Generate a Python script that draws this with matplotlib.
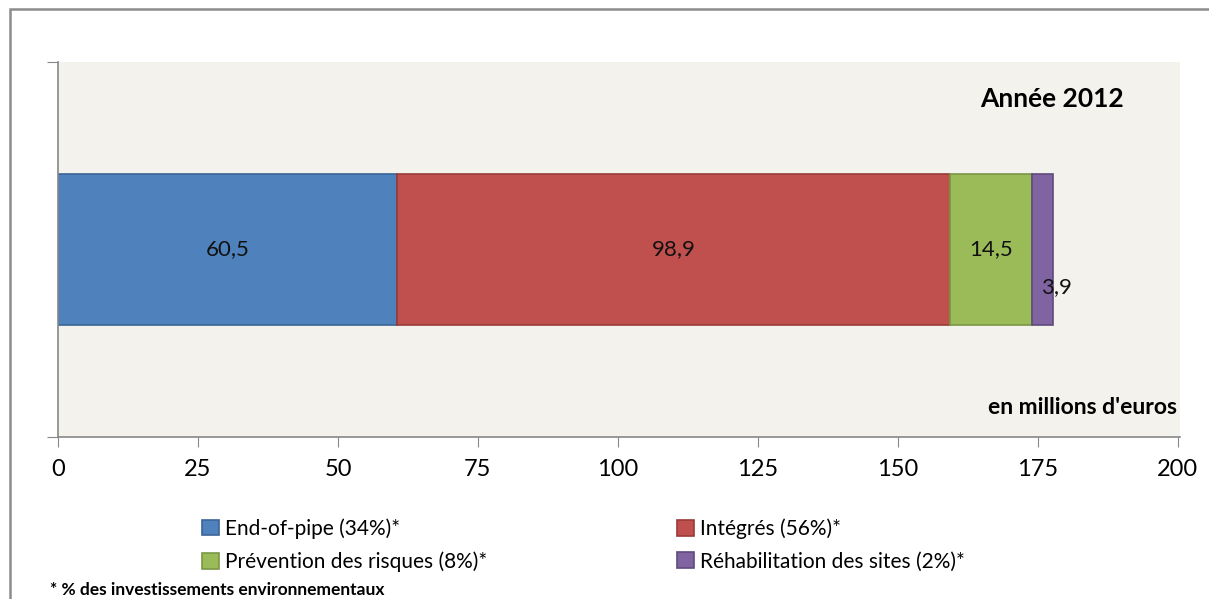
"""Stacked horizontal bar of 2012 environmental investments."""

import matplotlib
matplotlib.use("Agg")
from matplotlib import pyplot as plt
from matplotlib.patches import Rectangle, Patch

categories = [
    "End-of-pipe (34%)*",
    "Intégrés (56%)*",
    "Prévention des risques (8%)*",
    "Réhabilitation des sites (2%)*",
]
values = [60.5, 98.9, 14.5, 3.9]
value_labels = ["60,5", "98,9", "14,5", "3,9"]
x_ticks = [0, 25, 50, 75, 100, 125, 150, 175, 200]

colors = ["#4F81BD", "#C0504D", "#9BBB59", "#8064A2"]
edges = ["#3A6596", "#9A3B38", "#7A9744", "#5F4A7C"]

plt.rcParams["font.family"] = ["Lato", "DejaVu Sans"]

fig = plt.figure(figsize=(12.09, 5.99), dpi=100)
ax = fig.add_axes([0.048, 0.2705, 0.928, 0.626])
ax.set_facecolor("#F3F2EC")

left = 0.0
for i, (val, col, ec) in enumerate(zip(values, colors, edges)):
    ax.barh(0, val, left=left, height=0.405, color=col, edgecolor=ec, linewidth=1.2)
    cx = left + val / 2
    if i == 3:
        # the smallest segment has its label pushed off-centre, as in the source
        ax.annotate(value_labels[i], (cx, 0), xytext=(10, -27), textcoords="offset points",
                    ha="center", va="center", fontsize=16, color="#111111")
    else:
        ax.text(cx, 0, value_labels[i], ha="center", va="center", fontsize=16, color="#111111")
    left += val

ax.set_xlim(0, 200.4)
ax.set_ylim(-0.5, 0.5)
ax.set_xticks(x_ticks)
ax.set_xticklabels([str(t) for t in x_ticks], fontsize=17)
ax.set_yticks([-0.5, 0.5])
ax.set_yticklabels([])
ax.tick_params(axis="x", length=7, color="#888888", pad=9)
ax.tick_params(axis="y", length=8, color="#888888")
for side in ("top", "right"):
    ax.spines[side].set_visible(False)
for side in ("left", "bottom"):
    ax.spines[side].set_color("#888888")
    ax.spines[side].set_linewidth(1.2)

ax.text(0.95, 0.9, "Année 2012", transform=ax.transAxes, ha="right", va="center",
        fontsize=19, fontweight="bold")
ax.text(0.997, 0.078, "en millions d'euros", transform=ax.transAxes, ha="right", va="center",
        fontsize=16.5, fontweight="bold")

handles = [Patch(facecolor=c, edgecolor=e, linewidth=1.2) for c, e in zip(colors, edges)]
legend_kw = dict(loc="center left", frameon=False, fontsize=15, handlelength=0.8,
                 handleheight=0.8, handletextpad=0.3, labelspacing=0.6,
                 borderpad=0, borderaxespad=0)
fig.legend([handles[0], handles[2]], [categories[0], categories[2]],
           bbox_to_anchor=(202 / 1209, 1 - 545 / 599), **legend_kw)
fig.legend([handles[1], handles[3]], [categories[1], categories[3]],
           bbox_to_anchor=(677 / 1209, 1 - 545 / 599), **legend_kw)

fig.text(0.041, 0.015, "* % des investissements environnementaux", ha="left", va="center",
         fontsize=12.5, fontweight="bold")

fig.patches.append(Rectangle((10 / 1209, -0.1), 1.2, 1 - 9 / 599 + 0.1,
                             transform=fig.transFigure, fill=False,
                             edgecolor="#8C8C8C", linewidth=1.8))

fig.savefig("out.png", dpi=100)
